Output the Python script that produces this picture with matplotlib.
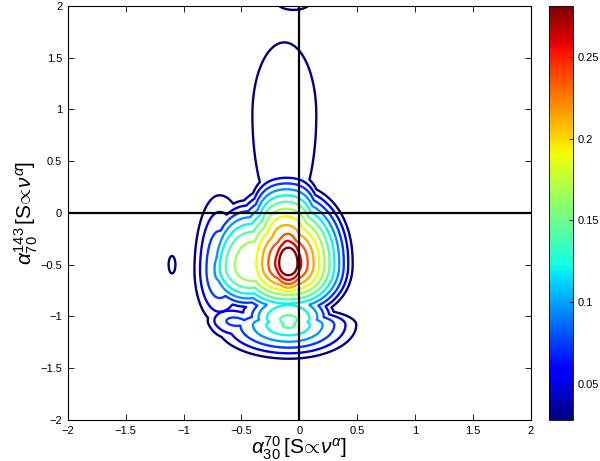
import numpy as np
import matplotlib
matplotlib.use("Agg")
import matplotlib.pyplot as plt
from matplotlib.colors import Normalize
from matplotlib.cm import ScalarMappable

plt.rcParams['font.family'] = ['Liberation Sans', 'DejaVu Sans']
plt.rcParams['mathtext.fontset'] = 'custom'
plt.rcParams['mathtext.rm'] = 'Liberation Sans'
plt.rcParams['mathtext.it'] = 'Liberation Sans:italic'

# Density, described as a sum of smooth bumps:
# main peak, inner core, left shoulder, secondary peak, upper column, small island, top edge
comp_cx  = [-0.095, -0.095, -0.69, -0.09, -0.13, -1.10, -0.05]
comp_cy  = [-0.49,  -0.48,  -0.55, -1.08,  0.95, -0.50,  2.05]
comp_rxl = [ 0.62,   0.10,   0.27,  0.74,  0.34,  0.07,  0.21]
comp_rxr = [ 0.60,   0.10,   0.32,  0.69,  0.34,  0.07,  0.21]
comp_ryd = [ 0.58,   0.30,   0.65,  0.39,  1.25,  0.20,  0.12]
comp_ryu = [ 0.84,   0.30,   0.90,  0.20,  0.86,  0.20,  0.12]
comp_p   = [ 1.3,    2.0,    1.4,   1.2,   4.0,   2.0,   2.0]
comp_q   = [ 2.2,    2.0,    2.0,   2.0,   2.0,   2.0,   2.0]
comp_amp = [ 0.29,   0.03,   0.105, 0.15,  0.0495, 0.034, 0.06]

levels = list(np.linspace(0.028, 0.281, 12))
ref_lines_x = [0.0]
ref_lines_y = [0.0]
xticks = [-2, -1.5, -1, -0.5, 0, 0.5, 1, 1.5, 2]
yticks = [-2, -1.5, -1, -0.5, 0, 0.5, 1, 1.5, 2]
cbar_ticks = [0.05, 0.1, 0.15, 0.2, 0.25]


def kernel(X, Y, cx, cy, rxl, rxr, ryd, ryu, p, q, amp):
    dx = X - cx
    dy = Y - cy
    u = np.abs(dx) / np.where(dx < 0, rxl, rxr)
    v = np.abs(dy) / np.where(dy < 0, ryd, ryu)
    d = (u ** q + v ** q) ** (1.0 / q)
    return amp * np.clip(1 - d ** p, 0, None)


gx = np.linspace(-2, 2, 801)
gy = np.linspace(-2, 2, 801)
X, Y = np.meshgrid(gx, gy)
Z = np.zeros_like(X)
for prm in zip(comp_cx, comp_cy, comp_rxl, comp_rxr, comp_ryd, comp_ryu, comp_p, comp_q, comp_amp):
    Z += kernel(X, Y, *prm)

fig = plt.figure(figsize=(6.0, 4.61), dpi=100)
ax = fig.add_axes([0.113, 0.089, 0.772, 0.898])
norm = Normalize(vmin=levels[0], vmax=levels[-1])
ax.contour(X, Y, Z, levels=levels, cmap='jet', norm=norm, linewidths=1.7)
for xv in ref_lines_x:
    ax.axvline(xv, color='black', lw=1.6)
for yv in ref_lines_y:
    ax.axhline(yv, color='black', lw=1.6)
ax.set_xlim(-2, 2)
ax.set_ylim(-2, 2)
ax.set_xticks(xticks)
ax.set_yticks(yticks)
ax.set_xticklabels([f"{t:g}".replace('-', '\u2212') for t in xticks])
ax.set_yticklabels([f"{t:g}".replace('-', '\u2212') for t in yticks])
ax.tick_params(direction='in', top=True, right=True, labelsize=8, length=4, width=0.6, pad=4)
for s in ax.spines.values():
    s.set_linewidth(0.8)
ax.set_xlabel(r'$\alpha^{70}_{30}\,[\mathrm{S}\!\propto\!\nu^{\alpha}]$', fontsize=15, labelpad=-1)
ax.set_ylabel(r'$\alpha^{143}_{70}\,[\mathrm{S}\!\propto\!\nu^{\alpha}]$', fontsize=15, labelpad=0)

cax = fig.add_axes([0.915, 0.089, 0.040, 0.898])
sm = ScalarMappable(norm=norm, cmap='jet')
cb = fig.colorbar(sm, cax=cax, ticks=cbar_ticks)
cb.ax.set_yticklabels([f"{t:g}" for t in cbar_ticks])
cb.ax.tick_params(direction='in', labelsize=8, length=3, width=0.6)
cb.outline.set_linewidth(0.6)

fig.savefig('out.png', dpi=100)
